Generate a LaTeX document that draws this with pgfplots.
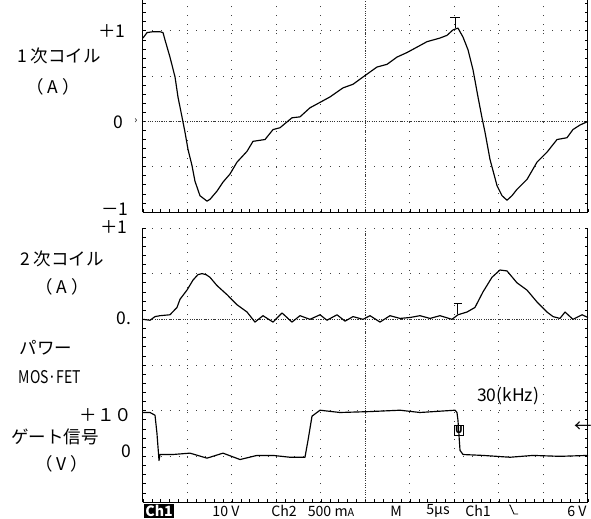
\documentclass[border=0pt]{standalone}
\usepackage{fontspec}
\setmainfont{Noto Sans CJK JP}
\usepackage{graphicx}
\usepackage{pgfplots}
\pgfplotsset{compat=1.18}
\usetikzlibrary{decorations.pathreplacing}

% time in us (5 us/div), primary / secondary current in A, gate voltage in V
\pgfplotstableread{
t A
0.00 0.92
0.45 0.98
1.12 0.99
1.91 0.99
2.25 0.98
2.47 0.90
3.03 0.71
3.60 0.49
3.93 0.27
4.38 0.05
4.72 -0.12
5.06 -0.31
5.51 -0.49
5.84 -0.66
6.40 -0.82
7.19 -0.88
7.53 -0.86
8.31 -0.77
8.99 -0.67
9.78 -0.58
10.56 -0.45
11.69 -0.33
12.36 -0.22
13.03 -0.21
13.71 -0.20
14.61 -0.09
15.39 -0.07
16.74 0.04
17.64 0.05
18.76 0.15
19.89 0.21
21.01 0.27
22.47 0.37
23.60 0.41
24.72 0.49
26.29 0.60
27.42 0.63
28.54 0.71
29.66 0.76
30.79 0.82
31.91 0.88
33.37 0.92
34.16 0.95
34.83 1.01
35.39 1.03
35.96 0.93
36.52 0.79
37.08 0.57
37.64 0.27
38.09 0.04
38.43 -0.12
38.99 -0.42
39.78 -0.71
40.34 -0.82
40.90 -0.87
41.46 -0.82
42.02 -0.75
43.15 -0.64
44.27 -0.45
45.39 -0.34
46.52 -0.20
47.64 -0.18
48.31 -0.09
49.10 -0.04
50.00 0.00
}\primary

\pgfplotstableread{
t A
0.00 0.00
0.79 -0.01
1.35 0.03
1.91 0.04
3.03 0.05
3.82 0.13
4.16 0.22
4.94 0.32
5.62 0.43
6.18 0.49
6.63 0.50
7.08 0.49
7.53 0.46
8.31 0.37
9.44 0.27
10.56 0.16
11.69 0.08
12.58 -0.03
13.48 0.04
14.61 -0.03
15.62 0.07
16.74 -0.03
17.64 0.04
18.76 0.00
19.89 0.05
20.67 -0.01
21.80 0.05
22.70 -0.02
23.60 0.03
24.72 0.00
25.51 0.04
26.63 -0.03
27.75 0.04
28.88 0.01
30.00 0.02
31.12 0.04
32.25 0.01
33.37 0.04
34.72 0.00
35.39 0.05
36.40 0.08
37.30 0.13
38.20 0.30
39.21 0.46
40.11 0.54
40.90 0.53
42.02 0.40
43.15 0.32
44.27 0.19
45.39 0.08
46.07 0.03
46.85 0.01
47.42 0.08
48.31 0.00
49.33 0.05
50.00 0.02
}\secondary

\pgfplotstableread{
t V
0.00 9.6
0.79 9.6
1.35 9.0
1.57 5.0
1.80 -0.9
1.91 0.4
3.37 0.4
5.28 0.7
7.19 -0.4
8.99 0.7
10.90 -0.7
12.81 0.2
14.61 0.2
16.52 -0.2
18.20 -0.2
18.54 3.5
18.99 8.8
19.89 10.1
22.13 9.6
25.51 9.8
28.88 10.1
31.12 9.6
35.06 10.1
35.28 9.6
35.39 7.9
35.62 1.3
35.96 0.4
38.20 0.2
41.24 -0.2
43.82 0.2
46.85 0.0
50.00 0.2
}\gate

\pgfplotsset{
  screen/.style={
    scale only axis, width=267pt,
    xmin=0, xmax=50,
    axis x line=bottom, axis y line=box,
    x axis line style={-}, y axis line style={-},
    axis line style={black, line width=0.6pt},
    xtick={0,5,...,50}, minor x tick num=4, minor y tick num=4,
    xticklabels={}, yticklabels={},
    tick align=inside,
    major tick length=1.8pt, minor tick length=1.8pt,
    tick style={black, line width=0.4pt},
    grid=major,
    major grid style={black!75, line width=0.6pt, dash pattern=on 0.6pt off 4.74pt},
    clip=false,
  },
  trace/.style={black, line width=0.7pt, no marks, line join=round},
}
\tikzset{
  centre/.style={black!80, line width=0.4pt, dash pattern=on 0.5pt off 0.9pt,
    postaction={solid, decorate, decoration={ticks, segment length=5.34pt, amplitude=1.3pt}}},
  lab/.style={font=\fontsize{10.5}{12}\selectfont, inner sep=0pt},
  bot/.style={font=\fontsize{8.5}{10}\selectfont, inner sep=0pt},
}

\begin{document}
\begin{tikzpicture}[x=0.6pt, y=-0.6pt]
\useasboundingbox (0,0) rectangle (591,519);

% primary coil screen
\begin{axis}[screen, at={(85.8pt,-127.2pt)}, anchor=south west, height=127.2pt,
  ymin=-1, ymax=1.34, ytick={-1,-0.5,...,1.5}]
  \draw[centre] (rel axis cs:0.5,0) -- (rel axis cs:0.5,1);
  \draw[centre] (axis cs:0,0) -- (axis cs:50,0);
  \addplot[trace] table[x=t, y=A] {\primary};
  \draw[line width=0.5pt] (axis cs:34.5,1.15) -- (axis cs:35.6,1.15)
    (axis cs:35.06,1.15) -- (axis cs:35.06,1.03);
\end{axis}

% secondary coil + gate screen
\begin{axis}[screen, at={(85.8pt,-301.2pt)}, anchor=south west, height=164.4pt,
  ymin=-2, ymax=1, ytick={-2,-1.5,...,1}]
  \draw[centre] (rel axis cs:0.5,0) -- (rel axis cs:0.5,1);
  \draw[centre] (axis cs:0,0) -- (axis cs:50,0);
  \addplot[trace] table[x=t, y=A] {\secondary};
  \draw[line width=0.5pt] (axis cs:34.94,0.175) -- (axis cs:35.84,0.175)
    (axis cs:35.28,0.175) -- (axis cs:35.28,0.055);
\end{axis}
\begin{axis}[scale only axis, hide axis, width=267pt, height=164.4pt,
  at={(85.8pt,-301.2pt)}, anchor=south west, xmin=0, xmax=50, ymin=-10, ymax=50, clip=false]
  \addplot[trace] table[x=t, y=V] {\gate};
  \node[draw, line width=0.5pt, inner sep=0.6pt, font=\fontsize{6}{6}\selectfont\bfseries]
    at (axis cs:35.5,5.7) {U};
\end{axis}

% left labels
\node[lab] at (112,31) {＋1};
\node[lab] at (59,56) {1 次コイル};
\node[lab] at (53,87) {（ A ）};
\node[lab] at (118,122) {0};
\node[font=\fontsize{6}{6}\selectfont, inner sep=0pt] at (136,121) {›};
\node[lab] at (115,209) {－1};
\node[lab] at (114,227) {＋1};
\node[lab] at (62,259) {2 次コイル};
\node[lab] at (62,287) {（ A ）};
\node[lab] at (124,318) {0.};
\node[lab] at (46,348) {パワー};
\node[inner sep=0pt] at (50,377) {\scalebox{0.8}[1]{\fontsize{10.5}{12}\selectfont MOS·FET}};
\node[lab] at (106,415) {＋１０};
\node[lab] at (55,437) {ゲート信号};
\node[lab] at (126,451) {0};
\node[lab] at (62,464) {（ V ）};
\node[lab] at (508,396) {30(kHz)};
\node[lab] at (583,427) {←};

% bottom readout
\node[bot, fill=black, text=white, inner sep=0.6pt, font=\fontsize{8.5}{10}\selectfont\bfseries] at (159,511) {Ch1};
\node[bot] at (226,511) {10 V};
\node[bot] at (284,511) {Ch2};
\node[bot] at (331,511) {500 m{\fontsize{6.5}{8}\selectfont A}};
\node[bot] at (396,511) {M};
\node[bot] at (438,511) {5µs};
\node[bot] at (478,511) {Ch1};
\draw[line width=0.5pt] (509,505) -- (510,505) -- (514,514) -- (518,514);
\node[bot] at (577,511) {6 V};
\end{tikzpicture}
\end{document}
